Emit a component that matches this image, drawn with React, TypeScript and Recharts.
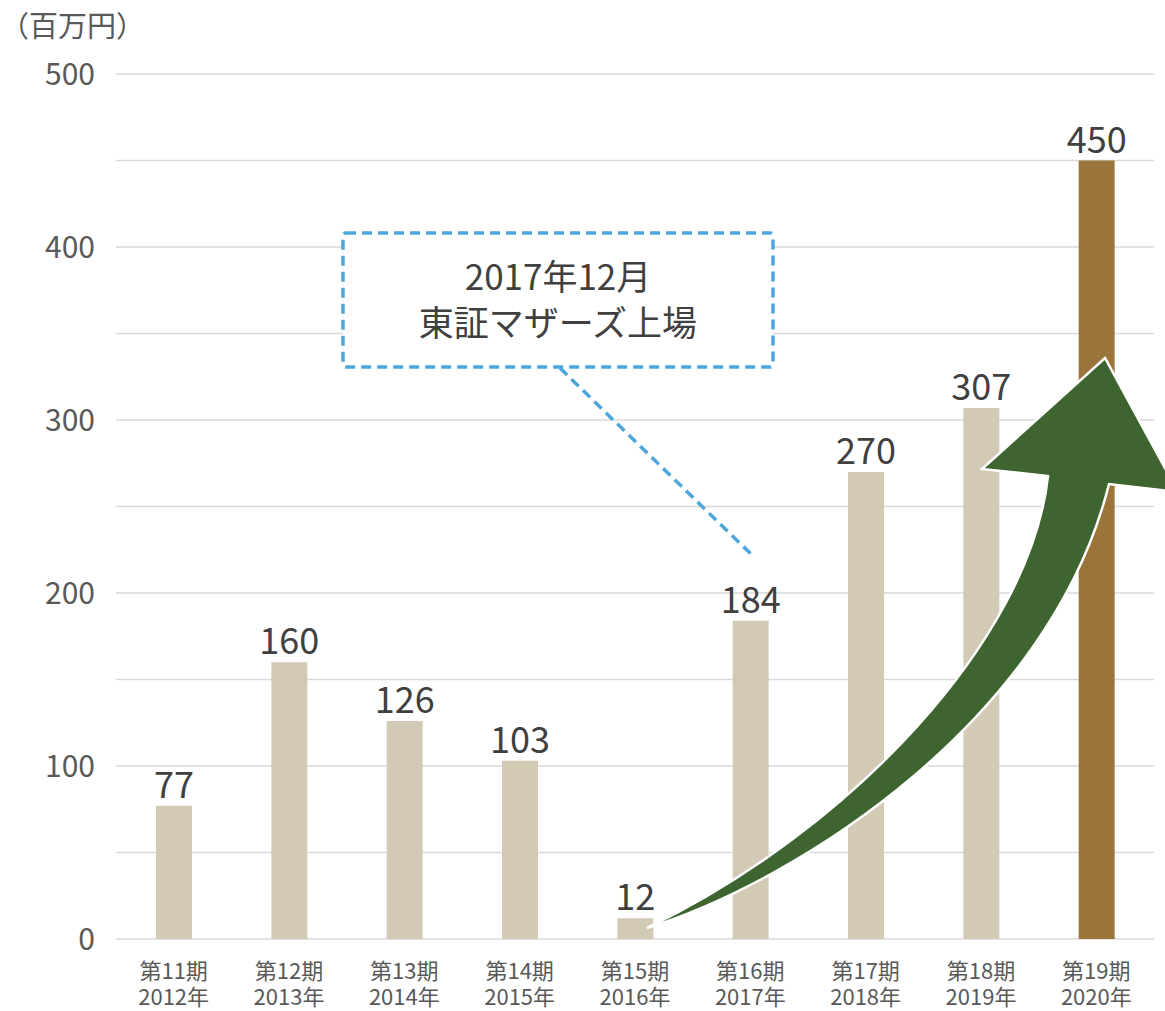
import React from 'react';
import { BarChart, Bar, XAxis, YAxis, CartesianGrid, Cell, LabelList } from 'recharts';

const periods = ['第11期', '第12期', '第13期', '第14期', '第15期', '第16期', '第17期', '第18期', '第19期'];
const years = ['2012年', '2013年', '2014年', '2015年', '2016年', '2017年', '2018年', '2019年', '2020年'];
const sales = [77, 160, 126, 103, 12, 184, 270, 307, 450];
const yTicks = [0, 50, 100, 150, 200, 250, 300, 350, 400, 450, 500];
const unitLabel = '（百万円）';
const calloutLines = ['2017年12月', '東証マザーズ上場'];

const data = periods.map((p, i) => ({ period: p, year: years[i], value: sales[i] }));

const FONT = '"Noto Sans CJK JP", "Noto Sans", sans-serif';
const BEIGE = '#D3CAB5';
const BROWN = '#9B743C';
const BLUE = '#4EA6DB';
const GREEN = '#3E6430';

const W = 1165;
const H = 1011;

const CatTick = (props: any) => {
  const { x, y, payload } = props;
  const idx = payload.index;
  return (
    <text x={x} y={y + 40} textAnchor="middle" fill="#595959" fontSize={22} fontFamily={FONT}>
      <tspan x={x}>{payload.value}</tspan>
      <tspan x={x} dy={26}>{years[idx]}</tspan>
    </text>
  );
};

const Overlay = () => (
  <svg width={W} height={H} style={{ position: 'absolute', left: 0, top: 0, pointerEvents: 'none' }}>
    <text x={0} y={37} fill="#595959" fontSize={29} fontFamily={FONT}>
      {unitLabel}
    </text>
    {/* callout */}
    <line x1={560} y1={368} x2={753} y2={556} stroke={BLUE} strokeWidth={3.5} strokeDasharray="10 6" />
    <rect x={343} y={233} width={430} height={134} rx={3} fill="#FFFFFF" stroke={BLUE} strokeWidth={3.5} strokeDasharray="10 6" />
    <text x={558} y={290} textAnchor="middle" fill="#404040" fontSize={35} fontFamily={FONT}>
      <tspan x={558}>{calloutLines[0]}</tspan>
      <tspan x={558} dy={46}>{calloutLines[1]}</tspan>
    </text>
    {/* growth arrow */}
    <path
      d="M 647 928 C 800 880 1050 720 1109 484 L 1178 492 L 1105 358 L 982 469 L 1048 476 C 1030 640 850 830 647 928 Z"
      fill={GREEN}
      stroke="#FFFFFF"
      strokeWidth={2.5}
      strokeLinejoin="miter"
    />
  </svg>
);

export default function App() {
  return (
    <div style={{ position: 'absolute', left: 0, top: 0, width: W, height: H, background: '#FFFFFF' }}>
      <BarChart
        width={W}
        height={H}
        data={data}
        margin={{ top: 74, right: 11, bottom: 0, left: 0 }}
        barSize={36}
      >
        <CartesianGrid vertical={false} stroke="#D9D9D9" strokeWidth={1.5} />
        <XAxis
          dataKey="period"
          height={72}
          axisLine={false}
          tickLine={false}
          tickSize={0}
          tickMargin={0}
          interval={0}
          tick={<CatTick />}
        />
        <YAxis
          width={116}
          domain={[0, 500]}
          ticks={yTicks}
          interval={0}
          axisLine={false}
          tickLine={false}
          tickSize={0}
          tickMargin={21}
          tickFormatter={(v: number) => (v % 100 === 0 ? String(v) : '')}
          tick={{ fill: '#595959', fontSize: 30, fontFamily: FONT }}
        />
        <Bar dataKey="value" isAnimationActive={false}>
          {data.map((d, i) => (
            <Cell key={d.period} fill={i === data.length - 1 ? BROWN : BEIGE} />
          ))}
          <LabelList dataKey="value" position="top" offset={8} fill="#404040" fontSize={36} fontFamily={FONT} />
        </Bar>
      </BarChart>
      <Overlay />
    </div>
  );
}
